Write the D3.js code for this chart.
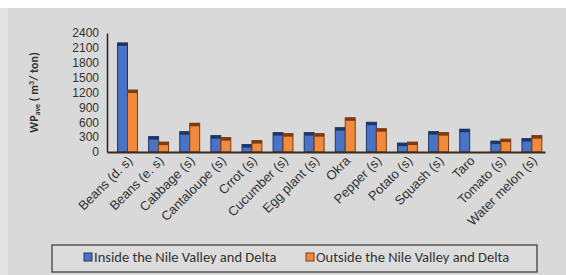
<!DOCTYPE html>
<html>
<head>
<meta charset="utf-8">
<script src="https://cdn.jsdelivr.net/npm/d3@7"></script>
<style>
  body { margin: 0; background: #fff; }
  svg { display: block; font-family: Calibri, Carlito, "Liberation Sans", sans-serif; }
</style>
</head>
<body>
<svg id="chart"></svg>
<script>
const crops = ['Beans (d. s)', 'Beans (e. s)', 'Cabbage (s)', 'Cantaloupe (s)', 'Crrot (s)',
  'Cucumber (s)', 'Egg plant (s)', 'Okra', 'Pepper (s)', 'Potato (s)', 'Squash (s)', 'Taro',
  'Tomato (s)', 'Water melon (s)'];
const inside = [2200, 310, 410, 330, 150, 390, 390, 490, 600, 180, 410, 460, 220, 270];
const outside = [1250, 200, 580, 290, 230, 370, 370, 690, 470, 200, 390, 0, 260, 330];
const yTicks = [0, 300, 600, 900, 1200, 1500, 1800, 2100, 2400];
const seriesNames = ['Inside the Nile Valley and Delta', 'Outside the Nile Valley and Delta'];

const width = 566, height = 275;
const margin = { left: 107, right: 21, top: 33, bottom: 123 };

const svg = d3.select('#chart').attr('width', width).attr('height', height);

// chart background
svg.append('rect').attr('x', 0).attr('y', 0).attr('width', width).attr('height', height).attr('fill', '#fff');
svg.append('rect').attr('x', 0).attr('y', 8).attr('width', width).attr('height', height - 8).attr('fill', '#e3e3e3');
svg.append('rect').attr('x', 8).attr('y', 8).attr('width', width - 8).attr('height', height - 8).attr('fill', '#d9d9d9');

const x0 = d3.scaleBand()
  .domain(crops)
  .range([margin.left, width - margin.right])
  .paddingInner(0.36)
  .paddingOuter(0.22)
  .align(0.77);

const x1 = d3.scaleBand().domain([0, 1]).range([0, x0.bandwidth()]);

const y = d3.scaleLinear().domain([0, 2400]).range([height - margin.bottom, margin.top]);

const colors = [
  { fill: '#4a73c6', dark: '#1c3766' },
  { fill: '#f28a3d', dark: '#7a3a12' }
];

const g = svg.append('g');

crops.forEach((c, i) => {
  [inside[i], outside[i]].forEach((v, s) => {
    if (!v) return;
    const bx = x0(c) + x1(s);
    const by = y(v);
    const bh = y(0) - by;
    g.append('rect')
      .attr('x', bx).attr('y', by)
      .attr('width', x1.bandwidth()).attr('height', bh)
      .attr('fill', colors[s].fill)
      .attr('stroke', colors[s].dark)
      .attr('stroke-width', 1);
    g.append('rect')
      .attr('x', bx).attr('y', by)
      .attr('width', x1.bandwidth()).attr('height', Math.min(3, bh))
      .attr('fill', colors[s].dark);
  });
});

// y axis
const yAxis = svg.append('g')
  .attr('transform', `translate(${margin.left},0)`)
  .call(d3.axisLeft(y).tickValues(yTicks).tickFormat(d3.format('d')).tickSize(0).tickPadding(8));
yAxis.select('.domain').attr('stroke', '#222').attr('stroke-width', 1.5);
yAxis.selectAll('text').attr('fill', '#333').style('font-size', '12px');

// x axis
const xAxis = svg.append('g')
  .attr('transform', `translate(0,${y(0)})`)
  .call(d3.axisBottom(x0).tickSize(0).tickPadding(7));
xAxis.select('.domain').attr('stroke', '#3a2a1a').attr('stroke-width', 2);
xAxis.selectAll('text')
  .attr('fill', '#333')
  .style('font-size', '13px')
  .style('text-anchor', 'end')
  .attr('dx', '-0.2em')
  .attr('dy', '0.3em')
  .attr('transform', 'rotate(-45)');

// y title
const title = svg.append('text')
  .attr('transform', `translate(38,${(margin.top + y(0)) / 2}) rotate(-90)`)
  .attr('text-anchor', 'middle')
  .attr('fill', '#333')
  .style('font-size', '12px')
  .style('font-weight', 'bold');
title.append('tspan').text('WP');
title.append('tspan').attr('dy', 2).style('font-size', '8px').text('ave');
title.append('tspan').attr('dy', -2).text(' ( m');
title.append('tspan').attr('dy', -4).style('font-size', '8px').text('3');
title.append('tspan').attr('dy', 4).text('/ ton)');

// legend
const legend = svg.append('g');
legend.append('rect')
  .attr('x', 52).attr('y', 245).attr('width', 485).attr('height', 27)
  .attr('fill', '#dcdcdc').attr('stroke', '#555').attr('stroke-width', 1.5);
const legendX = [84, 306];
seriesNames.forEach((name, s) => {
  legend.append('rect')
    .attr('x', legendX[s]).attr('y', 253).attr('width', 8).attr('height', 8)
    .attr('fill', colors[s].fill).attr('stroke', colors[s].dark).attr('stroke-width', 1);
  legend.append('text')
    .attr('x', legendX[s] + 10).attr('y', 262)
    .attr('fill', '#333')
    .style('font-size', '14.5px')
    .text(name);
});
</script>
</body>
</html>
